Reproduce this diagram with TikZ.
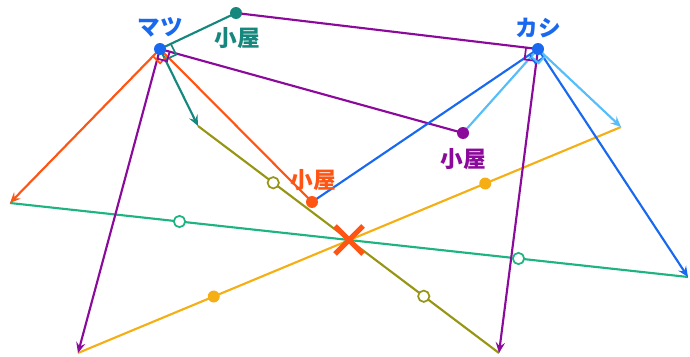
\documentclass[tikz,border=0pt]{standalone}
\usepackage{fontspec}
\newfontfamily\jp{Noto Sans CJK JP}
\usetikzlibrary{calc,arrows.meta}
\definecolor{cteal}{RGB}{22,135,125}
\definecolor{cpurple}{RGB}{140,10,155}
\definecolor{cred}{RGB}{255,85,20}
\definecolor{cblue}{RGB}{25,105,240}
\definecolor{clight}{RGB}{85,190,250}
\definecolor{cgreen}{RGB}{30,180,130}
\definecolor{colive}{RGB}{150,150,20}
\definecolor{cyellow}{RGB}{245,175,20}
\tikzset{
  ln/.style={line width=1.6pt},
  arr/.style={ln,-{Stealth[length=8pt,width=7pt,inset=3pt]}},
  ra/.style={line width=1.3pt},
  lbl/.style={font=\jp\bfseries\fontsize{17}{17}\selectfont, inner sep=0pt},
  ring/.style={circle, draw, line width=1.3pt, fill=white, minimum size=8.5pt, inner sep=0pt},
  sdot/.style={circle, minimum size=9pt, inner sep=0pt},
}
\begin{document}
\begin{tikzpicture}[x=0.75pt,y=-0.75pt]
\useasboundingbox (0,0) rectangle (690,357);
% points
\coordinate (M) at (160,49);
\coordinate (K) at (538,49);
\coordinate (T) at (236,13);
\coordinate (P) at (463,133);
\coordinate (O) at (312,202);
\coordinate (A) at (198,126);
\coordinate (B) at (10,203);
\coordinate (C) at (78,353);
\coordinate (D) at (499,353);
\coordinate (E) at (688,277);
\coordinate (F) at (621,127);
\coordinate (X) at (349,240);
% connecting lines between arrow ends
\draw[ln,cgreen] (B) -- (E);
\draw[ln,colive] (A) -- (D);
\draw[ln,cyellow] (C) -- (F);
% lines from M
\draw[ln,cteal] (M) -- (T);
\draw[ln,cred] (M) -- (O);
\draw[ln,cpurple] (M) -- (P);
\draw[arr,cteal] (M) -- (A);
\draw[arr,cred] (M) -- (B);
\draw[arr,cpurple] (M) -- (C);
% lines from K
\draw[ln,cpurple] (K) -- (T);
\draw[ln,cblue] (K) -- (O);
\draw[ln,clight] (K) -- (P);
\draw[arr,cpurple] (K) -- (D);
\draw[arr,cblue] (K) -- (E);
\draw[arr,clight] (K) -- (F);
% right angle marks
\draw[ra,cteal] ($(M)!9pt!(T)$) -- ($(M)!9pt!(T)+(M)!9pt!(A)-(M)$) -- ($(M)!9pt!(A)$);
\draw[ra,cred] ($(M)!7.5pt!(O)$) -- ($(M)!7.5pt!(O)+(M)!7.5pt!(B)-(M)$) -- ($(M)!7.5pt!(B)$);
\draw[ra,cpurple] ($(M)!7.5pt!(P)$) -- ($(M)!7.5pt!(P)+(M)!7.5pt!(C)-(M)$) -- ($(M)!7.5pt!(C)$);
\draw[ra,cpurple] ($(K)!9pt!(T)$) -- ($(K)!9pt!(T)+(K)!9pt!(D)-(K)$) -- ($(K)!9pt!(D)$);
\draw[ra,cblue] ($(K)!7.5pt!(O)$) -- ($(K)!7.5pt!(O)+(K)!7.5pt!(E)-(K)$) -- ($(K)!7.5pt!(E)$);
\draw[ra,clight] ($(K)!7.5pt!(P)$) -- ($(K)!7.5pt!(P)+(K)!7.5pt!(F)-(K)$) -- ($(K)!7.5pt!(F)$);
% marks on the lines
\node[ring,draw=cgreen] (g1) at ($(B)!0.25!(E)$) {};
\node[ring,draw=cgreen] (g2) at ($(B)!0.75!(E)$) {};
\node[ring,draw=colive] (o1) at ($(A)!0.25!(D)$) {};
\node[ring,draw=colive] (o2) at ($(A)!0.75!(D)$) {};
\node[sdot,fill=cyellow] (y1) at ($(C)!0.25!(F)$) {};
\node[sdot,fill=cyellow] (y2) at ($(C)!0.75!(F)$) {};
% point dots
\node[sdot,fill=cblue] (Md) at (M) {};
\node[sdot,fill=cblue] (Kd) at (K) {};
\node[sdot,fill=cteal] (Td) at (T) {};
\node[sdot,fill=cpurple] (Pd) at (P) {};
\node[sdot,fill=cred] (Od) at (O) {};
% X mark
\draw[cred,line width=3.8pt] ($(X)+(-14,-14)$) -- ($(X)+(14,14)$);
\draw[cred,line width=3.8pt] ($(X)+(-14,14)$) -- ($(X)+(14,-14)$);
% labels
\node[lbl,text=cblue] (lM) at (160,27) {マツ};
\node[lbl,text=cblue] (lK) at (538,28) {カシ};
\node[lbl,text=cteal] (lT) at (237,38) {小屋};
\node[lbl,text=cpurple] (lP) at (463,159) {小屋};
\node[lbl,text=cred] (lO) at (313,180) {小屋};
\end{tikzpicture}
\end{document}
